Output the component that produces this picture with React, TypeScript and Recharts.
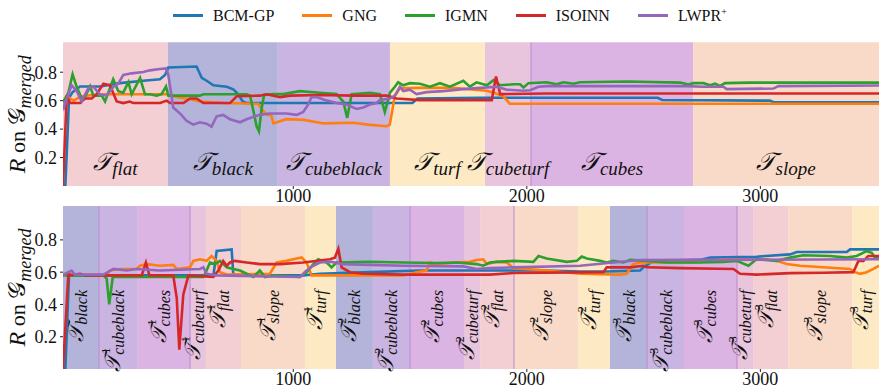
import React from "react"
import { LineChart, Line, XAxis, YAxis, ReferenceArea, ReferenceLine, Legend } from "recharts"

const X_DOMAIN: [number, number] = [14, 3508]
const Y_DOMAIN: [number, number] = [0, 1.01]
const X_TICKS = [1000, 2000, 3000]
const Y_TICKS = [0.2, 0.4, 0.6, 0.8]

const SERIES_NAMES = ["BCM-GP", "GNG", "IGMN", "ISOINN", "LWPR+"]
const SERIES_COLORS = ["#1f77b4", "#ff7f0e", "#2ca02c", "#d62728", "#9467bd"]

const PHASE_COLORS: { [k: string]: string } = {
  flat: "#f3ced3",
  black: "#b4b4da",
  cubeblack: "#cab4e1",
  cubes: "#dcb4e3",
  turf: "#fdeac5",
  cubeturf: "#e9c4dd",
  slope: "#f9dac8",
}

// top panel: one pass over every task
const topPhases = ["flat", "black", "cubeblack", "turf", "cubeturf", "cubes", "slope"]
const topEdges = [14, 463, 934, 1414, 1821, 2018, 2712, 3508]
const topLines = [2018]

// bottom panel: repeated passes
const bottomPhases = [
  "black", "cubeblack", "cubes", "cubeturf", "flat", "slope", "turf",
  "black", "cubeblack", "cubes", "cubeturf", "flat", "slope", "turf",
  "black", "cubeblack", "cubes", "cubeturf", "flat", "slope", "turf",
]
const bottomPasses = ["", "1", "1", "1", "1", "1", "1", "2", "2", "2", "2", "2", "2", "2", "3", "3", "3", "3", "3", "3", "3"]
const bottomEdges = [14, 168, 331, 558, 626, 776, 1050, 1183, 1341, 1500, 1731, 1800, 1945, 2219, 2356, 2515, 2673, 2900, 2969, 3119, 3393, 3508]
const bottomLines = [168, 558, 1500, 1945, 2515, 2900]

// top panel series [step, R]
const topBcm = [
  [14, 0], [24, 0], [40, 0.62], [55, 0.66], [87, 0.7], [172, 0.7], [258, 0.723], [358, 0.74], [429, 0.75],
  [451, 0.78], [465, 0.833], [586, 0.84], [608, 0.76], [629, 0.74], [658, 0.708], [715, 0.698], [743, 0.68],
  [765, 0.645], [783, 0.594], [800, 0.583], [1510, 0.583], [1532, 0.615], [1800, 0.62], [2560, 0.62],
  [2580, 0.605], [3040, 0.6], [3060, 0.588], [3508, 0.588],
]
const topGng = [
  [14, 0.58], [40, 0.62], [60, 0.6], [90, 0.63], [140, 0.64], [200, 0.645], [457, 0.645], [500, 0.625],
  [560, 0.61], [600, 0.594], [700, 0.583], [850, 0.578], [875, 0.52], [890, 0.5], [905, 0.5], [915, 0.44],
  [970, 0.47], [1045, 0.465], [1130, 0.44], [1255, 0.445], [1330, 0.43], [1400, 0.42], [1413, 0.43],
  [1435, 0.635], [1457, 0.687], [1540, 0.69], [1685, 0.69], [1828, 0.67], [1856, 0.657], [1899, 0.63],
  [1927, 0.579], [3508, 0.578],
]
const topIgmn = [
  [14, 0.59], [23, 0.615], [37, 0.656], [55, 0.785], [72, 0.7], [94, 0.615], [108, 0.625], [130, 0.7],
  [144, 0.635], [180, 0.635], [194, 0.594], [229, 0.75], [251, 0.666], [272, 0.656], [294, 0.73], [308, 0.645],
  [344, 0.76], [365, 0.645], [386, 0.645], [415, 0.635], [436, 0.645], [455, 0.7], [465, 0.635], [600, 0.635],
  [615, 0.645], [800, 0.645], [815, 0.635], [829, 0.531], [843, 0.42], [853, 0.385], [865, 0.55], [875, 0.64],
  [914, 0.646], [957, 0.646], [1028, 0.667], [1114, 0.656], [1185, 0.646], [1214, 0.594], [1231, 0.479],
  [1250, 0.646], [1328, 0.656], [1371, 0.646], [1392, 0.52], [1414, 0.656], [1435, 0.698], [1449, 0.729],
  [1471, 0.708], [1499, 0.723], [1542, 0.719], [1585, 0.698], [1628, 0.723], [1671, 0.698], [1728, 0.74],
  [1756, 0.698], [1785, 0.729], [1829, 0.708], [1857, 0.744], [1886, 0.708], [1943, 0.715], [1971, 0.715],
  [1986, 0.692], [2007, 0.723], [2085, 0.729], [2128, 0.715], [2157, 0.729], [2200, 0.719], [2228, 0.729],
  [2428, 0.735], [2656, 0.727], [2692, 0.713], [2713, 0.723], [2756, 0.723], [2785, 0.708], [2806, 0.719],
  [2827, 0.704], [2849, 0.723], [2956, 0.727], [3508, 0.727],
]
const topIsoinn = [
  [14, 0], [30, 0.635], [44, 0.583], [87, 0.583], [108, 0.615], [137, 0.615], [158, 0.645], [187, 0.719],
  [215, 0.708], [244, 0.594], [272, 0.583], [300, 0.594], [315, 0.583], [430, 0.583], [458, 0.6], [472, 0.583],
  [530, 0.583], [558, 0.615], [586, 0.615], [615, 0.583], [729, 0.583], [758, 0.631], [857, 0.635],
  [886, 0.645], [943, 0.625], [986, 0.635], [1114, 0.64], [1257, 0.635], [1400, 0.635], [1442, 0.615],
  [1542, 0.604], [1850, 0.604], [1868, 0.77], [1886, 0.646], [2085, 0.65], [3508, 0.65],
]
const topLwpr = [
  [14, 0.573], [18, 0.552], [30, 0.615], [51, 0.708], [73, 0.666], [94, 0.594], [122, 0.687], [144, 0.698],
  [172, 0.645], [201, 0.635], [230, 0.698], [251, 0.72], [272, 0.781], [308, 0.792], [358, 0.802],
  [386, 0.813], [429, 0.823], [455, 0.827], [465, 0.781], [486, 0.552], [515, 0.51], [543, 0.458],
  [572, 0.431], [600, 0.448], [629, 0.438], [650, 0.417], [672, 0.49], [700, 0.5], [729, 0.469], [772, 0.448],
  [800, 0.469], [836, 0.49], [857, 0.5], [900, 0.51], [971, 0.51], [1014, 0.5], [1043, 0.52], [1064, 0.573],
  [1078, 0.625], [1100, 0.625], [1135, 0.604], [1185, 0.583], [1228, 0.573], [1271, 0.542], [1300, 0.552],
  [1328, 0.573], [1357, 0.583], [1371, 0.604], [1414, 0.615], [1435, 0.635], [1457, 0.698], [1471, 0.667],
  [1499, 0.677], [1528, 0.646], [1571, 0.66], [1642, 0.667], [1728, 0.681], [1785, 0.688], [1871, 0.698],
  [1914, 0.677], [1986, 0.67], [2014, 0.673], [2050, 0.698], [2085, 0.702], [2685, 0.702], [2756, 0.698],
  [2842, 0.698], [2856, 0.681], [3056, 0.685], [3077, 0.702], [3508, 0.706],
]

// bottom panel series [step, R]
const botBcm = [
  [14, 0], [24, 0], [40, 0.59], [55, 0.58], [658, 0.58], [672, 0.731], [736, 0.741], [743, 0.59], [760, 0.58],
  [1043, 0.58], [1114, 0.59], [1328, 0.6], [1542, 0.61], [2085, 0.61], [2228, 0.604], [2342, 0.604],
  [2485, 0.61], [2499, 0.63], [2542, 0.67], [2742, 0.676], [2785, 0.69], [2984, 0.696], [3127, 0.71],
  [3156, 0.725], [3370, 0.725], [3384, 0.741], [3508, 0.741],
]
const botGng = [
  [14, 0.59], [30, 0.585], [201, 0.585], [215, 0.61], [258, 0.62], [329, 0.62], [344, 0.64], [372, 0.65],
  [429, 0.64], [486, 0.645], [501, 0.62], [558, 0.63], [572, 0.67], [601, 0.68], [629, 0.67], [650, 0.7],
  [672, 0.67], [686, 0.6], [715, 0.585], [900, 0.59], [929, 0.66], [971, 0.67], [1014, 0.685], [1036, 0.691],
  [1057, 0.66], [1078, 0.58], [1471, 0.58], [1528, 0.6], [1571, 0.61], [1585, 0.66], [1613, 0.65],
  [1699, 0.66], [1756, 0.664], [1785, 0.675], [1813, 0.68], [1829, 0.65], [1871, 0.664], [1914, 0.66],
  [1943, 0.625], [2085, 0.61], [2228, 0.59], [2399, 0.585], [2428, 0.59], [2456, 0.65], [2485, 0.66],
  [2599, 0.66], [2742, 0.664], [2842, 0.68], [3027, 0.68], [3070, 0.67], [3113, 0.65], [3170, 0.64],
  [3270, 0.63], [3384, 0.62], [3405, 0.6], [3427, 0.59], [3455, 0.6], [3484, 0.62], [3508, 0.64],
]
const botIgmn = [
  [14, 0.58], [187, 0.58], [201, 0.56], [212, 0.4], [227, 0.57], [615, 0.57], [629, 0.61], [643, 0.66],
  [665, 0.65], [686, 0.67], [715, 0.63], [743, 0.62], [772, 0.61], [800, 0.59], [829, 0.57], [857, 0.61],
  [879, 0.57], [915, 0.58], [1028, 0.57], [1057, 0.6], [1086, 0.65], [1107, 0.68], [1143, 0.66], [1164, 0.63],
  [1185, 0.66], [1328, 0.665], [1471, 0.66], [1613, 0.657], [1699, 0.66], [1785, 0.65], [1813, 0.64],
  [1842, 0.66], [1871, 0.664], [1943, 0.67], [2028, 0.664], [2050, 0.7], [2085, 0.685], [2171, 0.664],
  [2214, 0.67], [2235, 0.697], [2257, 0.685], [2314, 0.67], [2342, 0.66], [2371, 0.67], [2414, 0.66],
  [2442, 0.676], [2514, 0.67], [2599, 0.66], [2742, 0.66], [2842, 0.664], [2899, 0.67], [2949, 0.64],
  [2984, 0.68], [3070, 0.67], [3127, 0.69], [3184, 0.705], [3298, 0.7], [3370, 0.69], [3412, 0.7],
  [3455, 0.73], [3477, 0.72], [3491, 0.69], [3508, 0.697],
]
const botIsoinn = [
  [14, 0], [37, 0.59], [44, 0.58], [87, 0.59], [110, 0.58], [351, 0.58], [369, 0.66], [384, 0.58], [486, 0.58],
  [501, 0.44], [512, 0.12], [529, 0.46], [551, 0.58], [658, 0.57], [679, 0.61], [700, 0.67], [715, 0.64],
  [729, 0.66], [750, 0.67], [800, 0.66], [857, 0.65], [943, 0.65], [1043, 0.66], [1157, 0.68], [1178, 0.69],
  [1193, 0.745], [1207, 0.63], [1243, 0.6], [1300, 0.59], [1471, 0.585], [1842, 0.585], [1943, 0.595],
  [2328, 0.6], [2342, 0.63], [2442, 0.63], [2499, 0.64], [2514, 0.63], [2656, 0.625], [2885, 0.62],
  [2913, 0.59], [2984, 0.585], [3127, 0.594], [3270, 0.596], [3398, 0.6], [3420, 0.67], [3441, 0.67],
  [3462, 0.7], [3508, 0.7],
]
const botLwpr = [
  [14, 0.58], [23, 0.59], [51, 0.61], [65, 0.585], [187, 0.585], [230, 0.62], [287, 0.61], [329, 0.62],
  [429, 0.61], [601, 0.62], [615, 0.63], [629, 0.59], [672, 0.58], [1028, 0.57], [1057, 0.61], [1086, 0.64],
  [1114, 0.66], [1157, 0.665], [1214, 0.65], [1328, 0.645], [1471, 0.64], [1728, 0.636], [1785, 0.62],
  [1842, 0.625], [1943, 0.63], [2228, 0.64], [2371, 0.66], [2485, 0.675], [2742, 0.676], [3508, 0.68],
]

const topSeries = [topBcm, topGng, topIgmn, topIsoinn, topLwpr]
const botSeries = [botBcm, botGng, botIgmn, botIsoinn, botLwpr]

const SERIF = "Liberation Serif, DejaVu Serif, serif"
const CAL_T = "\u{1D4AF}"
const CAL_G = "\u{1D4A2}"

const toPts = (arr: number[][]) => arr.map(([t, v]) => ({ t, v }))

// horizontal label in the top panel
function TopPhaseLabel({ viewBox, name }: any) {
  if (!viewBox) return null
  const cx = viewBox.x + viewBox.width / 2
  const y = viewBox.y + viewBox.height - 16
  return (
    <text x={cx} y={y} textAnchor="middle" style={{ fontFamily: SERIF, fontStyle: "italic" }} fill="#111">
      <tspan fontSize={25}>{CAL_T}</tspan>
      <tspan fontSize={19} dy={5}>{name}</tspan>
    </text>
  )
}

// rotated label in the bottom panel
function BottomPhaseLabel({ viewBox, name, pass }: any) {
  if (!viewBox) return null
  const cx = viewBox.x + viewBox.width / 2 + 2
  const y = viewBox.y + 84
  return (
    <text
      x={cx}
      y={y}
      textAnchor="end"
      transform={`rotate(-90, ${cx}, ${y})`}
      style={{ fontFamily: SERIF, fontStyle: "italic" }}
      fill="#111"
    >
      <tspan fontSize={22}>{CAL_T}</tspan>
      {pass ? (
        <>
          <tspan fontSize={12} style={{ fontStyle: "normal" }} dx={1} dy={-10}>{pass}</tspan>
          <tspan fontSize={16} dx={-7} dy={14}>{name}</tspan>
        </>
      ) : (
        <tspan fontSize={16} dy={4}>{name}</tspan>
      )}
    </text>
  )
}

function YLabel({ viewBox }: any) {
  if (!viewBox) return null
  const x = viewBox.x + 17
  const y = viewBox.y + viewBox.height / 2
  return (
    <text x={x} y={y} textAnchor="middle" transform={`rotate(-90, ${x}, ${y})`} style={{ fontFamily: SERIF }} fill="#111">
      <tspan fontSize={24} style={{ fontStyle: "italic" }}>R</tspan>
      <tspan fontSize={22}> on </tspan>
      <tspan fontSize={24}>{CAL_G}</tspan>
      <tspan fontSize={18} style={{ fontStyle: "italic" }} dy={6}>merged</tspan>
    </text>
  )
}

function LegendBox({ payload }: any) {
  return (
    <div style={{ display: "flex", alignItems: "center", fontFamily: SERIF, fontSize: 16, color: "#111" }}>
      {(payload || []).map((p: any) => (
        <div key={p.value} style={{ display: "flex", alignItems: "center", marginRight: 28 }}>
          <div style={{ width: 30, height: 2.5, background: p.color, marginRight: 10 }} />
          <span>
            {p.value === "LWPR+" ? (
              <>
                LWPR<sup style={{ fontSize: 10 }}>+</sup>
              </>
            ) : (
              p.value
            )}
          </span>
        </div>
      ))}
    </div>
  )
}

const tickStyle = { fontSize: 18, fill: "#111", style: { fontFamily: SERIF } }

function Panel({ height, marginTop, phases, edges, passes, lines, series, rotated, legend }: any) {
  return (
    <LineChart width={879} height={height} margin={{ top: marginTop, right: 0, bottom: 0, left: 8 }}>
      {phases.map((ph: string, i: number) => (
        <ReferenceArea
          key={`a${i}`}
          x1={edges[i]}
          x2={edges[i + 1]}
          fill={PHASE_COLORS[ph]}
          fillOpacity={1}
          stroke="none"
        />
      ))}
      {lines.map((x: number) => (
        <ReferenceLine key={`l${x}`} x={x} stroke="#b88ad0" strokeWidth={1} />
      ))}
      {phases.map((ph: string, i: number) => (
        <ReferenceArea
          key={`t${i}`}
          x1={edges[i]}
          x2={edges[i + 1]}
          fillOpacity={0}
          stroke="none"
          label={(p: any) =>
            rotated ? (
              <BottomPhaseLabel viewBox={p.viewBox} name={ph} pass={passes[i]} />
            ) : (
              <TopPhaseLabel viewBox={p.viewBox} name={ph} />
            )
          }
        />
      ))}
      <XAxis
        dataKey="t"
        type="number"
        domain={X_DOMAIN}
        ticks={X_TICKS}
        allowDataOverflow
        axisLine={false}
        tickSize={3}
        tickMargin={0}
        height={20}
        tick={tickStyle}
        tickLine={{ stroke: "#222" }}
      />
      <YAxis
        type="number"
        domain={Y_DOMAIN}
        ticks={Y_TICKS}
        allowDataOverflow
        axisLine={false}
        width={55}
        tickSize={3}
        tickMargin={3}
        tickFormatter={(v: number) => v.toFixed(1)}
        tick={tickStyle}
        tickLine={{ stroke: "#222" }}
        label={(p: any) => <YLabel viewBox={p.viewBox} />}
      />
      {series.map((s: number[][], i: number) => (
        <Line
          key={SERIES_NAMES[i]}
          data={toPts(s)}
          dataKey="v"
          name={SERIES_NAMES[i]}
          stroke={SERIES_COLORS[i]}
          strokeWidth={2.6}
          dot={false}
          activeDot={false}
          type="linear"
          isAnimationActive={false}
        />
      ))}
      {legend && (
        <Legend
          verticalAlign="top"
          content={<LegendBox />}
          wrapperStyle={{ position: "absolute", top: 6, left: 173, width: 620 }}
        />
      )}
    </LineChart>
  )
}

export default function App() {
  return (
    <div style={{ position: "absolute", left: 0, top: 0, width: 879, height: 389, background: "#fff", fontFamily: SERIF }}>
      <div style={{ position: "absolute", left: 0, top: 0 }}>
        <Panel
          height={206}
          marginTop={23}
          phases={topPhases}
          edges={topEdges}
          passes={[]}
          lines={topLines}
          series={topSeries}
          rotated={false}
          legend
        />
      </div>
      <div style={{ position: "absolute", left: 0, top: 190 }}>
        <Panel
          height={199}
          marginTop={16}
          phases={bottomPhases}
          edges={bottomEdges}
          passes={bottomPasses}
          lines={bottomLines}
          series={botSeries}
          rotated
          legend={false}
        />
      </div>
    </div>
  )
}
